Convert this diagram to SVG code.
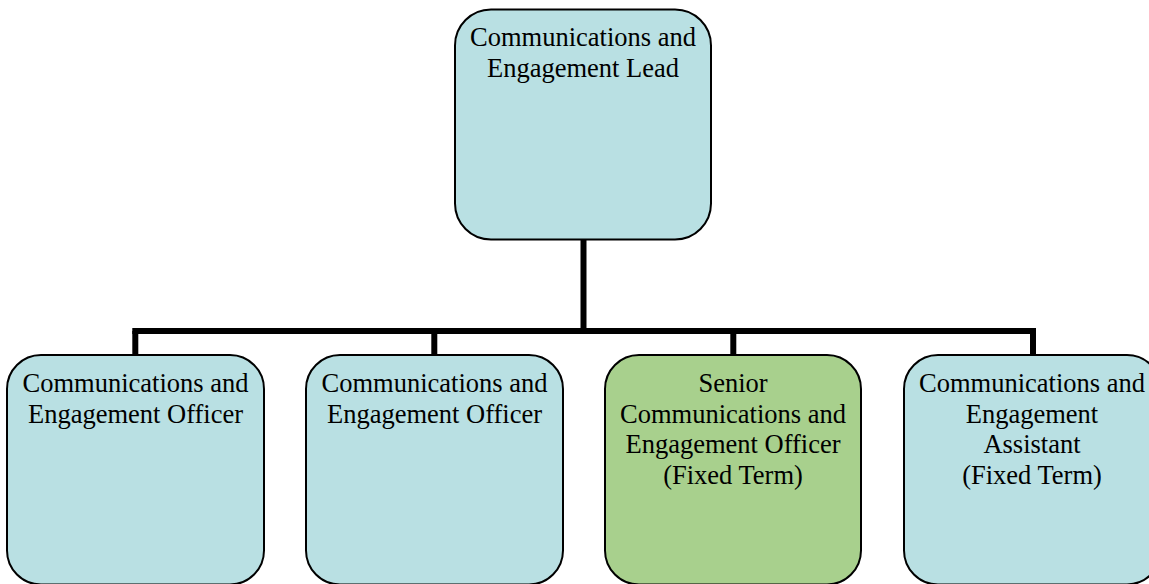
<svg xmlns="http://www.w3.org/2000/svg" width="1149" height="584" viewBox="0 0 1149 584">
<style>
.box{stroke:#000;stroke-width:2}
.blue{fill:#B9E0E3}
.green{fill:#A8D08D}
.t{font-family:"Liberation Serif","Times New Roman",serif;font-size:26.5px;fill:#000;text-anchor:middle}
.conn{stroke:#000;stroke-width:6;fill:none;stroke-linecap:butt}
</style>
<rect width="1149" height="584" fill="#fff"/>
<g id="connectors">
<path class="conn" d="M583.5 240 V331"/>
<path class="conn" d="M132.3 331 H1036"/>
<path class="conn" d="M135.3 331 V355"/>
<path class="conn" d="M434.3 331 V355"/>
<path class="conn" d="M733.3 331 V355"/>
<path class="conn" d="M1033 331 V355"/>
</g>
<g id="lead">
<rect class="box blue" x="455" y="9.5" width="256" height="230" rx="36" ry="36"/>
<text class="t" x="583" y="46">Communications and</text>
<text class="t" x="583" y="77">Engagement Lead</text>
</g>
<g id="officer1">
<rect class="box blue" x="7" y="355" width="257" height="229.5" rx="34" ry="34"/>
<text class="t" x="135.5" y="392">Communications and</text>
<text class="t" x="135.5" y="422.5">Engagement Officer</text>
</g>
<g id="officer2">
<rect class="box blue" x="306" y="355" width="257" height="229.5" rx="34" ry="34"/>
<text class="t" x="434.5" y="392">Communications and</text>
<text class="t" x="434.5" y="422.5">Engagement Officer</text>
</g>
<g id="senior">
<rect class="box green" x="605" y="355" width="256" height="229.5" rx="34" ry="34"/>
<text class="t" x="733" y="392">Senior</text>
<text class="t" x="733" y="422.5">Communications and</text>
<text class="t" x="733" y="453">Engagement Officer</text>
<text class="t" x="733" y="483.5">(Fixed Term)</text>
</g>
<g id="assistant">
<rect class="box blue" x="904" y="355" width="257" height="229.5" rx="34" ry="34"/>
<text class="t" x="1032" y="392">Communications and</text>
<text class="t" x="1032" y="422.5">Engagement</text>
<text class="t" x="1032" y="453">Assistant</text>
<text class="t" x="1032" y="483.5">(Fixed Term)</text>
</g>
</svg>
